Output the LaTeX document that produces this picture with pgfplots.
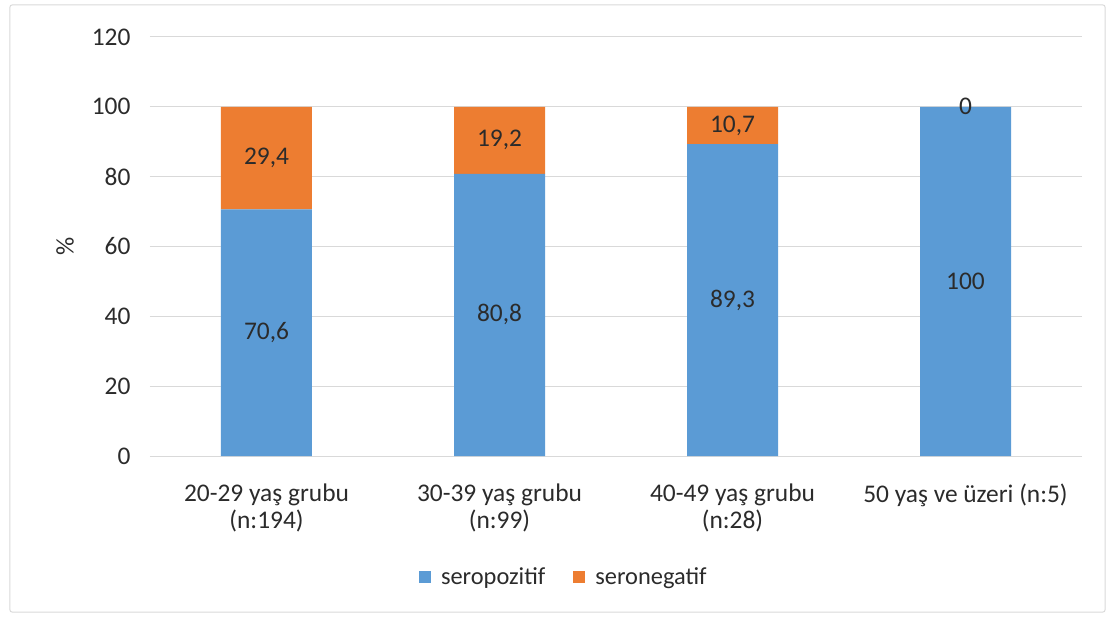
\documentclass[border=0pt]{standalone}
\usepackage{pgfplots}
\pgfplotsset{compat=1.18}
\usepackage{pgfplotstable}
\usepackage{fontspec}
\setmainfont{Carlito}
\definecolor{cblue}{HTML}{5B9BD5}
\definecolor{corange}{HTML}{ED7D31}
\definecolor{cgrid}{HTML}{D9D9D9}
\definecolor{ctext}{HTML}{2B2B2B}
\pgfplotstableread{
x pos neg
0 70.6 29.4
1 80.8 19.2
2 89.3 10.7
3 100 0
}\datatable
\pgfplotstableread{
x y lab
0 35.3 {70,6}
1 40.4 {80,8}
2 44.65 {89,3}
3 50 {100}
0 85.3 {29,4}
1 90.4 {19,2}
2 94.65 {10,7}
3 100 {0}
}\labtable
\begin{document}
\begin{tikzpicture}
\useasboundingbox (-150bp,-163bp) rectangle (961bp,456bp);
\draw[cgrid, line width=1bp, rounded corners=2bp] (-140bp,-156bp) rectangle (955bp,451bp);
\begin{axis}[
  scale only axis, width=932bp, height=419bp,
  ybar stacked, bar width=91bp,
  xmin=-0.5, xmax=3.5, ymin=0, ymax=120,
  ytick distance=20,
  xtick=data,
  xticklabels={{20-29 yaş grubu\\(n:194)},{30-39 yaş grubu\\(n:99)},{40-49 yaş grubu\\(n:28)},{50 yaş ve üzeri (n:5)}},
  font=\fontsize{25.5}{27}\selectfont,
  xticklabel style={align=center, text=ctext, yshift=-24bp},
  yticklabel style={text=ctext, xshift=-16bp},
  /pgf/number format/assume math mode=true,
  major tick length=0pt,
  axis line style={draw=none},
  ymajorgrids, grid style={cgrid, line width=1bp},
  ylabel={\%},
  ylabel style={at={(axis description cs:-0.0912,0.5)}, anchor=center, text=ctext},
  legend style={at={(axis description cs:0.444,-0.289)}, anchor=center, legend columns=2, draw=none, fill=none,
    font=\fontsize{24.5}{26}\selectfont, text=ctext,
    nodes={font=\fontsize{24.5}{26}\selectfont, text=ctext},
    /tikz/every odd column/.append style={column sep=8bp},
    /tikz/every even column/.append style={column sep=26bp}},
  legend image code/.code={\fill[#1] (0bp,-6bp) rectangle (12bp,6bp);},
]
\addplot[fill=cblue, draw=none] table[x=x, y=pos] {\datatable};
\addplot[fill=corange, draw=none] table[x=x, y=neg] {\datatable};
\legend{seropozitif, seronegatif}
\end{axis}
\begin{axis}[
  scale only axis, width=932bp, height=419bp,
  xmin=-0.5, xmax=3.5, ymin=0, ymax=120,
  hide axis,
]
\addplot[draw=none, mark=none, nodes near coords, point meta=explicit symbolic,
  every node near coord/.style={anchor=center, text=ctext, font=\fontsize{25.5}{27}\selectfont}]
  table[x=x, y=y, meta=lab] {\labtable};
\end{axis}
\end{tikzpicture}
\end{document}
